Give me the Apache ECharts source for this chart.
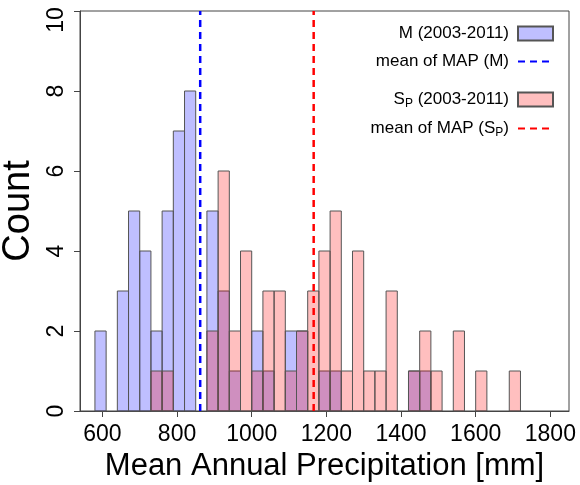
<!DOCTYPE html>
<html>
<head>
<meta charset="utf-8">
<script src="https://cdn.jsdelivr.net/npm/echarts@6/dist/echarts.min.js"></script>
<style>
  html, body { margin: 0; padding: 0; background: #fff; }
  #chart { width: 580px; height: 485px; }
</style>
</head>
<body>
<div id="chart"></div>
<script>
// histogram bins (left edges, mm) - every bin is 30 mm wide
const binStarts = [580, 610, 640, 670, 700, 730, 760, 790, 820, 850,
  880, 910, 940, 970, 1000, 1030, 1060, 1090, 1120, 1150,
  1180, 1210, 1240, 1270, 1300, 1330, 1360, 1390, 1420, 1450,
  1480, 1510, 1540, 1570, 1600, 1630, 1660, 1690];
const binWidth = 30;

// counts per bin
const countsM = [2, 0, 3, 5, 4, 2, 5, 7, 8, 0,
  5, 3, 1, 0, 2, 1, 0, 2, 2, 0,
  1, 1, 0, 0, 0, 0, 0, 0, 1, 1,
  0, 0, 0, 0, 0, 0, 0, 0];
const countsSP = [0, 0, 0, 0, 0, 1, 1, 0, 0, 0,
  2, 6, 2, 4, 1, 3, 3, 1, 2, 3,
  4, 5, 1, 4, 1, 1, 3, 0, 1, 2,
  1, 0, 2, 0, 1, 0, 0, 1];

// means of MAP
const meanM = 862;
const meanSP = 1166;

const xTicks = [600, 800, 1000, 1200, 1400, 1600, 1800];
const yTicks = [0, 2, 4, 6, 8, 10];

const font = 'Liberation Sans, Arial, sans-serif';

function histData(counts) {
  return binStarts.map((s, i) => [s, counts[i]]).filter(d => d[1] > 0);
}

function renderBar(params, api) {
  const x0 = api.value(0);
  const c = api.value(1);
  const p0 = api.coord([x0, c]);
  const p1 = api.coord([x0 + binWidth, 0]);
  return {
    type: 'rect',
    shape: { x: p0[0], y: p0[1], width: p1[0] - p0[0], height: p1[1] - p0[1] },
    style: api.style()
  };
}

const names = ['M (2003-2011)', 'mean of MAP (M)', 'SP (2003-2011)', 'mean of MAP (SP)'];
const labels = {
  'M (2003-2011)': '{t|M (2003-2011)}',
  'mean of MAP (M)': '{t|mean of MAP (M)}',
  'SP (2003-2011)': '{t|S}{s|P}{t| (2003-2011)}',
  'mean of MAP (SP)': '{t|mean of MAP (S}{s|P}{t|)}'
};
const legendTops = [25, 53, 91, 120];

const chart = echarts.init(document.getElementById('chart'), null, { renderer: 'canvas' });

chart.setOption({
  animation: false,
  textStyle: { fontFamily: font },
  grid: {
    left: 80, right: 11, top: 11, bottom: 74,
    outerBoundsMode: 'none',
    show: true, borderColor: '#444', borderWidth: 1, backgroundColor: 'transparent'
  },
  legend: names.map((n, i) => ({
    data: [i % 2 === 0
      ? { name: n, icon: 'rect' }
      : { name: n, itemStyle: { color: 'transparent', borderWidth: 0, opacity: 0 } }],
    orient: 'vertical',
    align: 'right',
    right: 26,
    top: legendTops[i],
    padding: 0,
    itemWidth: 35,
    itemHeight: 14,
    selectedMode: false,
    formatter: name => labels[name],
    textStyle: {
      padding: [0, 4, 0, 0],
      rich: {
        t: { fontSize: 17, fontFamily: font, color: '#000', lineHeight: 20 },
        s: { fontSize: 12, fontFamily: font, color: '#000', lineHeight: 20, verticalAlign: 'bottom' }
      }
    }
  })),
  xAxis: {
    type: 'value',
    min: 540,
    max: 1850,
    name: 'Mean Annual Precipitation [mm]',
    nameLocation: 'middle',
    nameGap: 40,
    nameTextStyle: { fontSize: 31, color: '#000', fontFamily: font },
    splitLine: { show: false },
    axisLine: { show: true, lineStyle: { color: '#444', width: 1 } },
    axisTick: { show: true, length: 6, lineStyle: { color: '#444' }, customValues: xTicks },
    axisLabel: { fontSize: 23, color: '#000', margin: 12, customValues: xTicks, formatter: v => String(v) }
  },
  yAxis: {
    type: 'value',
    min: 0,
    max: 10,
    interval: 2,
    name: 'Count',
    nameLocation: 'middle',
    nameGap: 36,
    nameTextStyle: { fontSize: 38, color: '#000', fontFamily: font },
    splitLine: { show: false },
    axisLine: { show: true, lineStyle: { color: '#444', width: 1 } },
    axisTick: { show: true, length: 6, lineStyle: { color: '#444' }, customValues: yTicks },
    axisLabel: {
      fontSize: 23, color: '#000', rotate: 90, margin: 12, customValues: yTicks,
      formatter: v => v === 10 ? '{top|10}' : String(v),
      rich: { top: { fontSize: 23, color: '#000', fontFamily: font, padding: [0, 18, 0, 0] } }
    }
  },
  series: [
    {
      name: names[0],
      type: 'custom',
      renderItem: renderBar,
      encode: { x: 0, y: 1 },
      itemStyle: { color: 'rgba(0,0,255,0.25)', borderColor: '#555', borderWidth: 1 },
      data: histData(countsM),
      z: 2
    },
    {
      name: names[2],
      type: 'custom',
      renderItem: renderBar,
      encode: { x: 0, y: 1 },
      itemStyle: { color: 'rgba(255,0,0,0.25)', borderColor: '#555', borderWidth: 1 },
      data: histData(countsSP),
      z: 3
    },
    {
      name: names[1],
      type: 'line',
      symbol: 'none',
      lineStyle: { color: '#0000ff', width: 2.5, type: [7, 5] },
      itemStyle: { color: '#0000ff' },
      data: [[meanM, 0], [meanM, 10]],
      z: 4
    },
    {
      name: names[3],
      type: 'line',
      symbol: 'none',
      lineStyle: { color: '#ff0000', width: 2.5, type: [7, 5] },
      itemStyle: { color: '#ff0000' },
      data: [[meanSP, 0], [meanSP, 10]],
      z: 4
    }
  ]
});
</script>
</body>
</html>
